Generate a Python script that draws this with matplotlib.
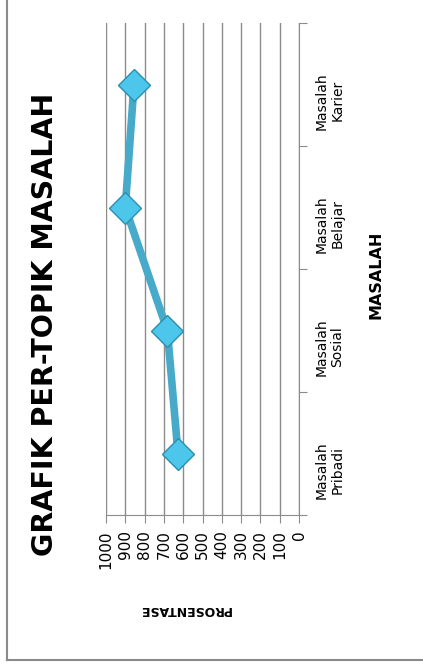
import matplotlib
matplotlib.use("Agg")
import matplotlib.pyplot as plt
from matplotlib.lines import Line2D
import numpy as np

# chart data
categories = ["Masalah\nPribadi", "Masalah\nSosial", "Masalah\nBelajar", "Masalah\nKarier"]
values = [627, 682, 900, 855]
value_ticks = [0, 100, 200, 300, 400, 500, 600, 700, 800, 900, 1000]

plt.rcParams['font.family'] = ['DejaVu Sans']

W, H = 423, 667
fig = plt.figure(figsize=(W / 100, H / 100), dpi=100)

# chart area border (left and bottom visible only)
yb = 1 - 660 / H
fig.add_artist(Line2D([7 / W, 7 / W], [yb, 1], color='#8a8a8a', lw=1.5,
                      transform=fig.transFigure))
fig.add_artist(Line2D([7 / W, 1], [yb, yb], color='#8a8a8a', lw=1.5,
                      transform=fig.transFigure))

# plot area: the whole chart is turned 90 degrees
ax = fig.add_axes([106 / W, 1 - 515 / H, 193 / W, 492 / H])
pos = np.arange(len(categories))
ax.plot(values, pos, color='#46AAC8', lw=5.5, zorder=3, solid_joinstyle='round')
ax.plot(values, pos, 'D', ms=16.5, markerfacecolor='#4CC6EA',
        markeredgecolor='#2B8FAF', markeredgewidth=1, zorder=4, ls='none')

ax.set_xlim(1000, 0)
ax.set_ylim(-0.5, len(categories) - 0.5)
ax.set_xticks(value_ticks)
ax.set_xticklabels([str(v) for v in value_ticks], rotation=90, fontsize=11)
ax.grid(axis='x', color='#8c8c8c', lw=1)
ax.set_axisbelow(True)

ax.yaxis.tick_right()
ax.set_yticks(np.arange(-0.5, len(categories), 1.0))
ax.set_yticklabels([])
ax.set_yticks(pos, minor=True)
ax.set_yticklabels(categories, minor=True, rotation=90, fontsize=10,
                   multialignment='center', linespacing=1.2)
ax.tick_params(axis='y', which='major', length=6, color='#8c8c8c', direction='out')
ax.tick_params(axis='y', which='minor', length=0, pad=11)
ax.tick_params(axis='x', length=6, color='#8c8c8c', pad=5)

for side in ['top', 'left']:
    ax.spines[side].set_visible(False)
ax.spines['bottom'].set_color('#8c8c8c')
ax.spines['right'].set_color('#8c8c8c')

fig.text(45 / W, 1 - 324 / H, "GRAFIK PER-TOPIK MASALAH", rotation=90, fontsize=20.5,
         fontweight='bold', ha='center', va='center')
fig.text(376 / W, 1 - 275 / H, "MASALAH", rotation=90, fontsize=11.5,
         fontweight='bold', ha='center', va='center')
fig.text(185 / W, 1 - 610 / H, "PROSENTASE", rotation=180, fontsize=9,
         fontweight='bold', ha='center', va='center')

fig.savefig("out.png", dpi=100)
